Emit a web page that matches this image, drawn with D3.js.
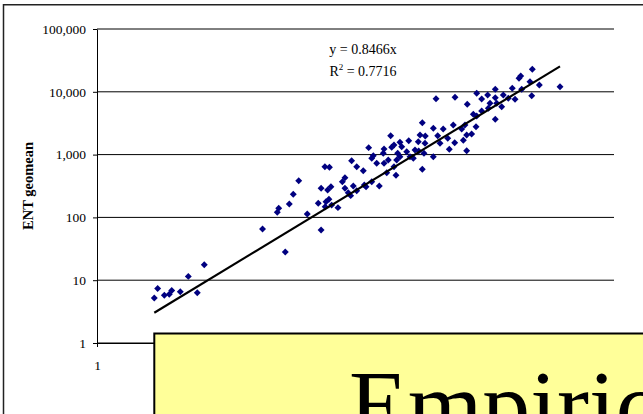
<!DOCTYPE html>
<html>
<head>
<meta charset="utf-8">
<script src="https://cdn.jsdelivr.net/npm/d3@7"></script>
<style>
  body { margin: 0; background: #fff; }
  svg { display: block; overflow: hidden; }
  text { font-family: 'Liberation Serif', 'Times New Roman', serif; }
</style>
</head>
<body>
<svg id="viz"></svg>
<script>
// points (x, ENT geomean), same order in both arrays
const xValues = [
  3.58, 3.86, 4.48, 5.0, 5.28, 6.39, 7.64, 9.33, 10.9, 39.9,
  66.2, 55.4, 57.2, 72.4, 79.1, 89.3, 108, 147, 138, 147,
  160, 177, 170, 183, 164, 175, 161, 186, 214,
  1400, 1790, 2230, 2790, 3620, 692, 424, 597, 745, 851,
  1035, 1330, 1496, 1972, 2466, 2880, 3490, 3760, 2077, 2554,
  3760, 1292, 1453, 1788, 1400, 1190, 989, 809, 885, 708,
  587, 470, 454, 507, 597, 656, 791, 745, 851, 1065,
  290, 325, 376, 634, 779, 537, 454, 385, 250, 236,
  250, 301, 325, 269, 284, 400,
  16220, 12060, 12530, 15400, 18960, 30050, 16000, 4700, 7110, 10380,
  12800, 5250, 6000, 7110, 8500, 9500, 11040, 6320, 7340, 8200,
  5250, 6090, 4700, 4360, 7110, 4630, 4200, 2900, 3810, 1900,
  3365, 1486, 1280, 1146
];
const yValues = [
  5.21, 7.38, 5.75, 5.96, 6.86, 6.56, 11.5, 6.32, 17.6, 65.3,
  28.1, 121, 140, 163, 233, 384, 113, 63, 168, 291,
  642, 628, 273, 308, 178, 194, 148, 157, 143,
  3220, 2620, 2560, 2960, 2960, 2000, 1290, 1230, 1420, 1570,
  1665, 2050, 1980, 2000, 1820, 1546, 1690, 2050, 1513, 1214,
  1153, 1141, 1049, 926, 583, 1183, 1112, 1049, 1336, 1307,
  1049, 960, 873, 727, 727, 820, 820, 642, 926, 926,
  800, 642, 554, 515, 468, 316, 370, 328, 429, 370,
  291, 316, 266, 247, 222, 308,
  22800, 16400, 17860, 14490, 12830, 12060, 8670, 9460, 10960, 11370,
  10960, 7680, 8890, 8050, 8890, 7880, 7600, 6560, 6560, 5790,
  4950, 5460, 4120, 4380, 3650, 2780, 2130, 8170, 6320, 7770,
  2560, 1513, 1604, 873
];
const yTicks = [1, 10, 100, 1000, 10000, 100000];
// only the first x tick shows; the rest sit under the yellow box
const xTicks = [1];
const slope = 0.8466;
const equationLines = ['y = 0.8466x', 'R2 = 0.7716'];
const yTitle = 'ENT geomean';
const boxText = 'Empiric';

const width = 643;
const height = 414;
const margin = { top: 29, right: 29, bottom: 71, left: 97 };
const plotW = width - margin.left - margin.right;
const plotH = height - margin.top - margin.bottom;

const svg = d3.select('#viz').attr('width', width).attr('height', height);

// outer chart frame
svg
  .append('rect')
  .attr('x', 3.5)
  .attr('y', 4.75)
  .attr('width', width + 20)
  .attr('height', height + 20)
  .attr('fill', '#fff')
  .attr('stroke', '#222')
  .attr('stroke-width', 1.5);

const g = svg
  .append('g')
  .attr('transform', 'translate(' + margin.left + ',' + margin.top + ')');

// SCALES

let x = d3.scaleLog().domain([1, 100000]).range([0, plotW]);
let y = d3.scaleLog().domain([1, 100000]).range([plotH, 0]);

// GRIDLINES

g.append('g')
  .selectAll('line')
  .data(yTicks)
  .enter()
  .append('line')
  .attr('x1', 0)
  .attr('x2', plotW)
  .attr('y1', (d) => y(d))
  .attr('y2', (d) => y(d))
  .attr('stroke', '#000')
  .attr('stroke-width', 1);

// AXES

const yAxis = g
  .append('g')
  .call(
    d3.axisLeft(y).tickValues(yTicks).tickFormat(d3.format(',')).tickSizeInner(4).tickSizeOuter(0).tickPadding(7)
  );
yAxis.selectAll('text').style('font-size', '13.5px').attr('fill', '#000');
yAxis.selectAll('line, path').attr('stroke', '#000');

const xAxis = g
  .append('g')
  .attr('transform', 'translate(0,' + plotH + ')')
  .call(d3.axisBottom(x).tickValues(xTicks).tickFormat(d3.format(',')).tickSizeInner(4).tickSizeOuter(0).tickPadding(13));
xAxis.selectAll('text').style('font-size', '13.5px').attr('fill', '#000');
xAxis.selectAll('line, path').attr('stroke', '#000');

// LABELS

svg
  .append('text')
  .attr('transform', 'rotate(-90)')
  .attr('x', -186)
  .attr('y', 33)
  .style('text-anchor', 'middle')
  .style('font-size', '14.5px')
  .style('font-weight', 'bold')
  .text(yTitle);

const eq = svg.append('g').attr('text-anchor', 'middle').style('font-size', '14px');
eq.append('text').attr('x', 363).attr('y', 53.5).text(equationLines[0]);
const r2 = eq.append('text').attr('x', 363).attr('y', 76);
r2.append('tspan').text('R');
r2.append('tspan').attr('dy', -6).style('font-size', '9px').text('2');
r2.append('tspan').attr('dy', 6).text(equationLines[1].slice(2));

// DATA

const points = xValues.map((d, i) => ({ x: d, y: yValues[i] }));

g.append('g')
  .selectAll('path')
  .data(points)
  .enter()
  .append('path')
  .attr('d', d3.symbol().type(d3.symbolSquare).size(24))
  .attr('transform', (d) => 'translate(' + x(d.x) + ',' + y(d.y) + ') rotate(45)')
  .style('fill', '#000080');

// linear trendline through origin, drawn over the data x-range
const xr = d3.extent(xValues);
g.append('line')
  .attr('x1', x(xr[0]))
  .attr('y1', y(slope * xr[0]))
  .attr('x2', x(xr[1]))
  .attr('y2', y(slope * xr[1]))
  .attr('stroke', '#000')
  .attr('stroke-width', 2.1);

// yellow slide box overlapping the chart
svg
  .append('rect')
  .attr('x', 154.3)
  .attr('y', 333.5)
  .attr('width', 600)
  .attr('height', 200)
  .attr('fill', '#ffff99')
  .attr('stroke', '#000')
  .attr('stroke-width', 2);

svg
  .append('text')
  .attr('x', 349)
  .attr('y', 437)
  .style('font-size', '96px')
  .attr('fill', '#000')
  .text(boxText);
</script>
</body>
</html>
